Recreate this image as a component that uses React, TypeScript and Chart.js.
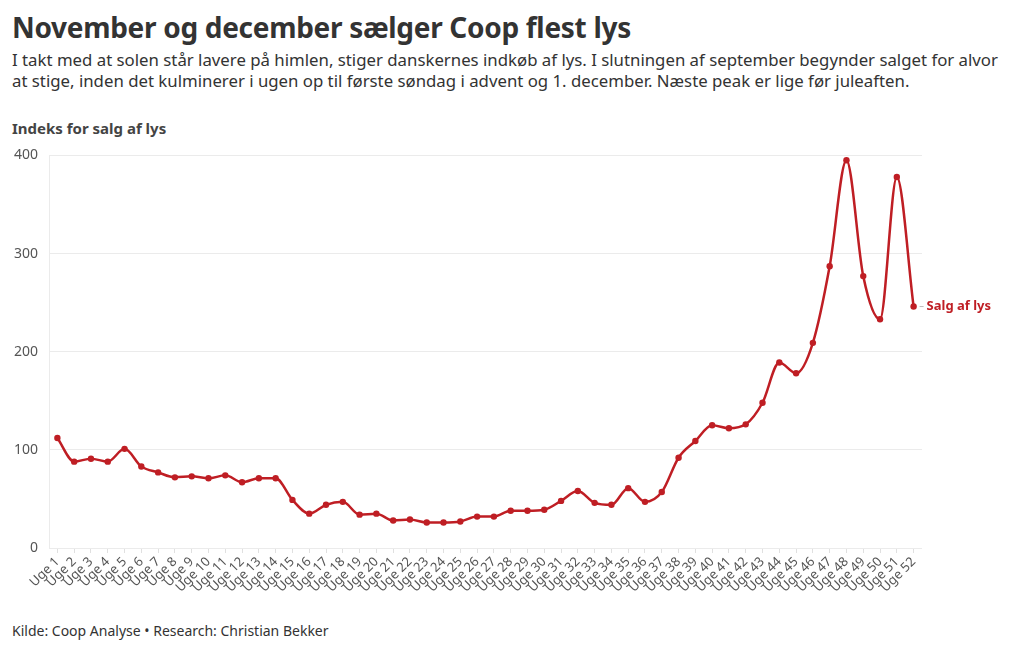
import React, { useEffect, useRef } from "react";
import { Chart, registerables } from "chart.js";

Chart.register(...registerables);

const weeks: string[] = Array.from({ length: 52 }, (_, i) => `Uge ${i + 1}`);
const salgAfLys: number[] = [
  112, 88, 91, 88, 101, 83, 77, 72, 73, 71, 74, 67, 71, 71, 49, 35, 44, 47, 34, 35,
  28, 29, 26, 26, 27, 32, 32, 38, 38, 39, 48, 58, 46, 44, 61, 47, 57, 92, 109, 125,
  122, 126, 148, 189, 178, 209, 287, 395, 277, 233, 378, 246,
];
const yTicks: number[] = [0, 100, 200, 300, 400];
const seriesName = "Salg af lys";

const RED = "#bf1e24";
const FONT = "'Noto Sans', sans-serif";

const endLabel = {
  id: "endLabel",
  afterDatasetsDraw(chart: any) {
    const meta = chart.getDatasetMeta(0);
    const pt = meta.data[meta.data.length - 1];
    if (!pt) return;
    const ctx = chart.ctx;
    ctx.save();
    ctx.strokeStyle = "#bbb";
    ctx.lineWidth = 1;
    ctx.beginPath();
    ctx.moveTo(pt.x + 6, pt.y);
    ctx.lineTo(pt.x + 10, pt.y);
    ctx.stroke();
    ctx.fillStyle = RED;
    ctx.font = `bold 13px ${FONT}`;
    ctx.textBaseline = "middle";
    ctx.fillText(seriesName, pt.x + 13, pt.y);
    ctx.restore();
  },
};

export default function App() {
  const ref = useRef<HTMLCanvasElement>(null);
  useEffect(() => {
    if (!ref.current) return;
    const chart = new Chart(ref.current, {
      type: "line",
      data: {
        labels: weeks,
        datasets: [
          {
            label: seriesName,
            data: salgAfLys,
            borderColor: RED,
            backgroundColor: RED,
            borderWidth: 2.5,
            pointRadius: 3.2,
            pointHoverRadius: 3.2,
            pointBorderWidth: 0,
            cubicInterpolationMode: "monotone",
          },
        ],
      },
      options: {
        animation: false,
        responsive: false,
        maintainAspectRatio: false,
        layout: { padding: { top: 10, right: 98, left: 0, bottom: 0 } },
        plugins: { legend: { display: false }, tooltip: { enabled: false } },
        scales: {
          x: {
            offset: true,
            grid: { drawOnChartArea: false, drawTicks: true, tickLength: 5, color: "#e0e0e0", offset: false },
            border: { display: false },
            ticks: {
              color: "#555",
              font: { family: FONT, size: 13 },
              minRotation: 45,
              maxRotation: 45,
              autoSkip: false,
              padding: 1,
            },
            afterFit(scale: any) {
              scale.height = 73;
            },
          },
          y: {
            min: 0,
            max: 400,
            afterBuildTicks(scale: any) {
              scale.ticks = yTicks.map((v) => ({ value: v }));
            },
            grid: { color: "#ebebeb", drawTicks: false },
            border: { display: true, color: "#ebebeb" },
            ticks: {
              color: "#555",
              font: { family: FONT, size: 14 },
              padding: 11,
            },
            afterFit(scale: any) {
              scale.width = 49;
            },
          },
        },
      },
      plugins: [endLabel],
    });
    return () => chart.destroy();
  }, []);

  return (
    <div style={{ position: "absolute", left: 0, top: 0, width: 1020, height: 650, fontFamily: FONT, color: "#333", background: "#fff" }}>
      <div style={{ position: "absolute", left: 12, top: 8, fontSize: 28, fontWeight: 700, color: "#333", whiteSpace: "nowrap", letterSpacing: -0.3 }}>
        November og december sælger Coop flest lys
      </div>
      <div style={{ position: "absolute", left: 12, top: 49, width: 1004, fontSize: 16.8, lineHeight: "21px", color: "#333" }}>
        I takt med at solen står lavere på himlen, stiger danskernes indkøb af lys. I slutningen af september begynder salget for alvor at stige, inden det kulminerer i ugen op til første søndag i advent og 1. december. Næste peak er lige før juleaften.
      </div>
      <div style={{ position: "absolute", left: 12, top: 118, fontSize: 15, fontWeight: 700, color: "#444" }}>
        Indeks for salg af lys
      </div>
      <canvas ref={ref} width={1020} height={485} style={{ position: "absolute", left: 0, top: 136, width: 1020, height: 485 }} />
      <div style={{ position: "absolute", left: 12, top: 621, fontSize: 14, color: "#333" }}>
        Kilde: Coop Analyse • Research: Christian Bekker
      </div>
    </div>
  );
}
